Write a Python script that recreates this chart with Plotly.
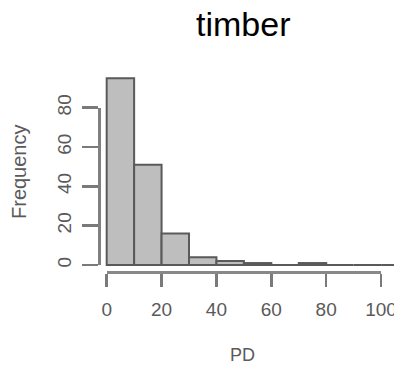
import plotly.graph_objects as go

# Histogram data (bins of width 10)
bin_starts = [0, 10, 20, 30, 40, 50, 60, 70, 80, 90, 100]
counts = [95, 51, 16, 4, 2, 1, 0, 1, 0, 0, 0]
bin_width = 10
x_ticks = [0, 20, 40, 60, 80, 100]
y_ticks = [0, 20, 40, 60, 80]
title_text = "timber"
x_label = "PD"
y_label = "Frequency"

centers = [s + bin_width / 2 for s in bin_starts]

FONT = "Liberation Sans, Arial, sans-serif"
TXT = "#5a5a5a"

fig = go.Figure()
fig.add_trace(go.Bar(
    x=centers, y=counts, width=[bin_width] * len(centers),
    marker=dict(color="#bebebe", line=dict(color="#5a5a5a", width=2)),
    showlegend=False, hoverinfo="skip",
))
# invisible trace to create the R-style offset axes
fig.add_trace(go.Scatter(x=[], y=[], xaxis="x2", yaxis="y2",
                         showlegend=False, hoverinfo="skip"))

fig.update_layout(
    width=394, height=366,
    margin=dict(l=99, r=0, t=0, b=94, autoexpand=False),
    paper_bgcolor="white", plot_bgcolor="rgba(0,0,0,0)",
    bargap=0,
    font=dict(family=FONT, color=TXT, size=18),
    xaxis=dict(domain=[0, 1], range=[-2.8, 104.7], visible=False, fixedrange=True,
               automargin=False),
    yaxis=dict(domain=[0, 1], range=[-3.56, 134.8], visible=False, fixedrange=True,
               automargin=False),
    xaxis2=dict(domain=[0.0261, 0.956], range=[-0.01, 100.01], anchor="free", position=0,
                showline=True, linecolor="#888888", linewidth=2.5,
                ticks="outside", ticklen=13, tickwidth=2.5, tickcolor="#7a7a7a",
                tickvals=x_ticks, ticktext=[str(v) for v in x_ticks],
                ticklabeloverflow="allow", ticklabelstandoff=7,
                showgrid=False, zeroline=False, automargin=False,
                tickfont=dict(family=FONT, size=19, color=TXT)),
    yaxis2=dict(domain=[0.0257, 0.604], range=[0, 80], anchor="free", position=0,
                showline=True, linecolor="#808080", linewidth=3,
                ticks="outside", ticklen=16, tickwidth=2.5, tickcolor="#7a7a7a",
                tickvals=y_ticks, ticktext=[str(v) for v in y_ticks],
                ticklabeloverflow="allow", ticklabelstandoff=3,
                tickangle=-90, showgrid=False, zeroline=False, automargin=False,
                tickfont=dict(family=FONT, size=19, color=TXT)),
    annotations=[
        dict(text=title_text, xref="paper", yref="paper", x=0.488, y=(272 - 24) / 272,
             xanchor="center", yanchor="middle", showarrow=False,
             font=dict(family=FONT, size=34, color="black")),
        dict(text=x_label, xref="paper", yref="paper", x=0.488, y=(272 - 355) / 272,
             xanchor="center", yanchor="middle", showarrow=False,
             font=dict(family=FONT, size=18, color=TXT)),
        dict(text=y_label, xref="paper", yref="paper", x=(19 - 99) / 295, y=(272 - 172) / 272,
             xanchor="center", yanchor="middle", showarrow=False, textangle=-90,
             font=dict(family=FONT, size=20, color=TXT)),
    ],
)

fig.write_html(
    "out.html",
    config={"displayModeBar": False, "staticPlot": True},
    post_script="document.body.style.margin='0';document.body.style.overflow='hidden';",
)
